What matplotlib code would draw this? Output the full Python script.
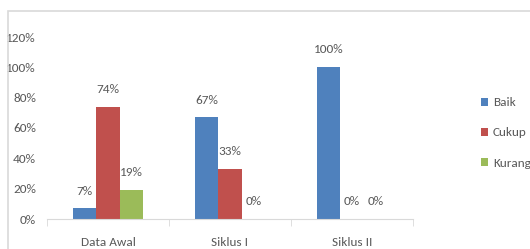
import numpy as np
import matplotlib.pyplot as plt
from matplotlib.patches import Rectangle

categories = ["Data Awal", "Siklus I", "Siklus II"]
series = ["Baik", "Cukup", "Kurang"]
baik = [7, 67, 100]
cukup = [74, 33, 0]
kurang = [19, 0, 0]
colors = ["#4F81BD", "#C0504D", "#9BBB59"]

plt.rcParams["font.family"] = ["Carlito", "DejaVu Sans"]
txt = "#595959"
fs = 9.5

fig = plt.figure(figsize=(5.3, 2.49), dpi=100)
# outer chart border
fig.patches.append(Rectangle((8 / 530, -0.1), 1.2, 1 - 11 / 249 + 0.1,
                             transform=fig.transFigure, fill=False,
                             edgecolor="#d9d9d9", linewidth=1.2))
ax = fig.add_axes([47 / 530, 1 - 219 / 249, (413 - 47) / 530, (219 - 37) / 249])

x = np.arange(len(categories))
w = 0.193
for i, (vals, name) in enumerate(zip([baik, cukup, kurang], series)):
    pos = x + (i - 1) * w
    ax.bar(pos, vals, width=w, color=colors[i], label=name)
    for p, v in zip(pos, vals):
        ax.annotate(f"{v}%", (p, v), xytext=(0, 12.5), textcoords="offset points",
                    ha="center", va="center", fontsize=fs, color=txt)

ax.set_xlim(-0.5, 2.5)
ax.set_ylim(0, 120)
ax.set_yticks(range(0, 121, 20))
ax.set_yticklabels([f"{t}%" for t in range(0, 121, 20)])
ax.set_xticks(x)
ax.set_xticklabels(categories)
ax.set_xticks([-0.5, 0.5, 1.5, 2.5], minor=True)
ax.tick_params(axis="x", which="major", length=0, pad=13, labelsize=fs, labelcolor=txt)
ax.tick_params(axis="x", which="minor", length=5, color="#d9d9d9")
ax.tick_params(axis="y", length=0, pad=8, labelsize=fs, labelcolor=txt)
for s in ["top", "right", "left"]:
    ax.spines[s].set_visible(False)
ax.spines["bottom"].set_color("#d9d9d9")

leg = fig.legend(loc="center left", bbox_to_anchor=(481 / 530, 1 - 133 / 249),
                 frameon=False, fontsize=fs, handlelength=0.55, handleheight=0.55,
                 handletextpad=0.35, labelspacing=1.45, borderpad=0, borderaxespad=0)
for t in leg.get_texts():
    t.set_color(txt)

fig.savefig("out.png", dpi=100)
